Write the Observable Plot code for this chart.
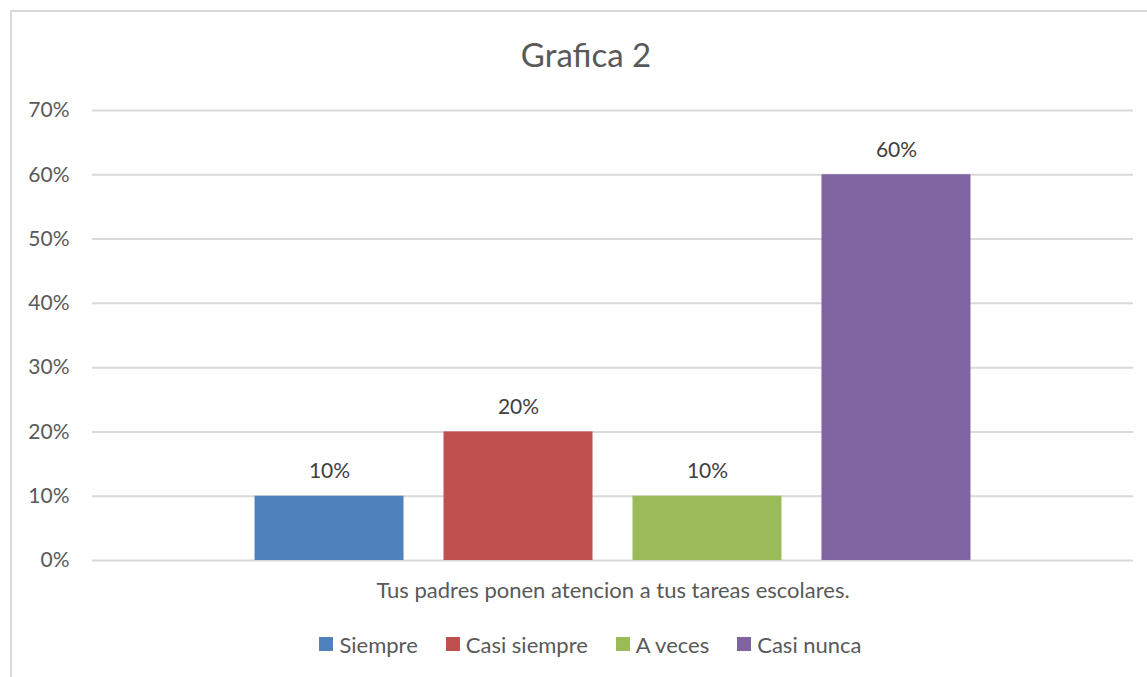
<!DOCTYPE html>
<html>
<head>
<meta charset="utf-8">
<script src="https://cdn.jsdelivr.net/npm/d3@7"></script>
<script src="https://cdn.jsdelivr.net/npm/@observablehq/plot@0.6"></script>
<style>
  html, body { margin: 0; padding: 0; background: #fff; }
  #wrap { position: relative; width: 1147px; height: 677px; overflow: hidden; font-family: Lato, "Open Sans", sans-serif; color: #595959; }
  #frame { position: absolute; left: 10px; top: 10px; width: 1200px; height: 700px; border-left: 2px solid #d9d9d9; border-top: 2px solid #d9d9d9; }
  #title { position: absolute; left: 0; width: 1172px; top: 34px; text-align: center; font-size: 33px; line-height: 40px; }
  #chart { position: absolute; left: 0; top: 90px; }
  #legend { position: absolute; left: 0; width: 1181px; top: 631px; height: 26px; display: flex; justify-content: center; align-items: center; font-size: 22px; white-space: nowrap; }
  .item { display: flex; align-items: center; margin-right: 28px; }
  .item:last-child { margin-right: 0; }
  .sw { display: inline-block; width: 14px; height: 14px; margin-right: 6px; }
</style>
</head>
<body>
<div id="wrap">
  <div id="frame"></div>
  <div id="title"></div>
  <div id="chart"></div>
  <div id="legend"></div>
</div>
<script>
const chartTitle = "Grafica 2";
const question = "Tus padres ponen atencion a tus tareas escolares.";
const categories = ["Siempre", "Casi siempre", "A veces", "Casi nunca"];
const values = [0.10, 0.20, 0.10, 0.60];
const colors = ["#4F81BD", "#C0504D", "#9BBB59", "#8064A2"];
const yTicks = [0, 0.1, 0.2, 0.3, 0.4, 0.5, 0.6, 0.7];

const data = categories.map((c, i) => ({q: question, s: c, v: values[i]}));
const pct = d => Math.round(d * 100) + "%";

document.getElementById("title").textContent = chartTitle;

const chart = Plot.plot({
  width: 1147,
  height: 530,
  marginTop: 20,
  marginBottom: 60,
  marginLeft: 92,
  marginRight: 14,
  style: {fontFamily: "Lato, 'Open Sans', sans-serif", fontSize: "21px", color: "#595959", background: "transparent"},
  fx: {domain: [question], padding: 0, round: false},
  x: {domain: categories, paddingInner: 0.2116, paddingOuter: 0.86, round: false},
  y: {domain: [0, 0.7]},
  color: {domain: categories, range: colors},
  marks: [
    Plot.ruleY(yTicks, {y: d => d, stroke: "#d9d9d9", strokeWidth: 2}),
    Plot.axisY({ticks: yTicks, tickFormat: pct, label: null, tickSize: 0, tickPadding: 23, fontSize: 21, fill: "#595959"}),
    Plot.axisFx({anchor: "bottom", label: null, tickSize: 0, tickPadding: 22, fontSize: 22, fill: "#595959"}),
    Plot.axisX({ticks: [], label: null}),
    Plot.barY(data, {fx: "q", x: "s", y: "v", fill: "s"}),
    Plot.text(data, {fx: "q", x: "s", y: "v", text: d => pct(d.v), dy: -25, fill: "#404040", fontSize: 21})
  ]
});
document.getElementById("chart").appendChild(chart);

const legend = document.getElementById("legend");
categories.forEach((c, i) => {
  const item = document.createElement("span");
  item.className = "item";
  const sw = document.createElement("span");
  sw.className = "sw";
  sw.style.background = colors[i];
  item.appendChild(sw);
  item.appendChild(document.createTextNode(c));
  legend.appendChild(item);
});
</script>
</body>
</html>
